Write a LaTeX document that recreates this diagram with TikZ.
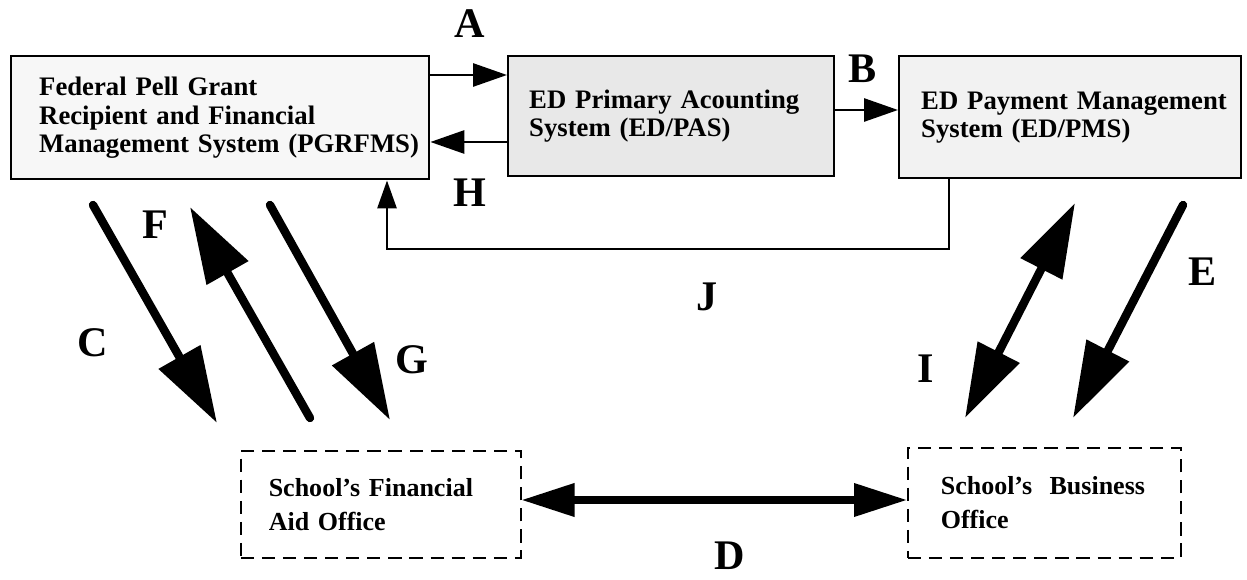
\documentclass[tikz,border=0pt]{standalone}
\usepackage{fontspec}
\setmainfont{Liberation Serif}
\usetikzlibrary{arrows.meta}
\begin{document}
\begin{tikzpicture}[x=0.02cm,y=-0.02cm,
  sysbox/.style={draw, line width=1.4pt, anchor=north west, align=left,
    font=\fontsize{15.2}{16}\selectfont\bfseries, inner ysep=0pt},
  schoolbox/.style={draw, line width=0.9pt, dash pattern=on 7.5pt off 4.5pt,
    anchor=north west, align=left, font=\fontsize{14.8}{19.3}\selectfont\bfseries,
    inner ysep=0pt},
  lbl/.style={font=\fontsize{24}{24}\selectfont\bfseries, inner sep=0pt},
  thinarr/.style={line width=1.6pt, -{Triangle[length=0.68cm,width=0.46cm]}},
  jarr/.style={line width=1.6pt, -{Triangle[length=0.56cm,width=0.38cm]}},
  bigarr/.style={line width=4.8pt, line cap=round, -{Triangle[length=1.52cm,width=0.92cm]}},
  bigdbl/.style={line width=4.8pt, {Triangle[length=1.48cm,width=0.9cm]}-{Triangle[length=1.48cm,width=0.9cm]}},
  darr/.style={line width=4pt, {Triangle[length=1.06cm,width=0.64cm]}-{Triangle[length=1.06cm,width=0.64cm]}}
]
\useasboundingbox (0,0) rectangle (1247,580);

% system boxes
\node[sysbox, fill=gray!6, inner xsep=0.56cm, text width=7.24cm, minimum height=2.46cm]
  (pgr) at (10,55) {Federal Pell Grant\\Recipient and Financial\\\mbox{Management System (PGRFMS)}};
\node[sysbox, fill=gray!18, inner xsep=0.42cm, text width=5.68cm, minimum height=2.4cm]
  (pas) at (507,55) {ED Primary Acounting\\System (ED/PAS)};
\node[sysbox, fill=gray!10, inner xsep=0.44cm, text width=5.96cm, minimum height=2.44cm]
  (pms) at (898,55) {\mbox{ED Payment Management}\\System (ED/PMS)};

% school boxes
\node[schoolbox, inner xsep=0.56cm, text width=4.48cm, minimum height=2.14cm]
  (fao) at (240,450) {School’s Financial\\Aid Office};
\node[schoolbox, inner xsep=0.66cm, text width=4.14cm, minimum height=2.2cm]
  (bo) at (907,447) {\mbox{School’s\ \ Business}\\Office};

% helper coordinates
\coordinate (ya) at (0,75);
\coordinate (yh) at (0,142);
\coordinate (yb) at (0,110);
\coordinate (yd) at (0,500);
\coordinate (jr) at (949,249);
\coordinate (jl) at (387,249);

% thin arrows
\draw[thinarr] (pgr.east |- ya) -- (pas.west |- ya);
\draw[thinarr] (pas.west |- yh) -- (pgr.east |- yh);
\draw[thinarr] (pas.east |- yb) -- (pms.west |- yb);
\draw[jarr] (pms.south -| jr) -- (jr) -- (jl) -- (pgr.south -| jl);

% thick arrows
\coordinate (c1) at (93,205);  \coordinate (c2) at (217,423);
\coordinate (f1) at (310,418); \coordinate (f2) at (190,207);
\coordinate (g1) at (270,205); \coordinate (g2) at (390,420);
\coordinate (i1) at (965,418); \coordinate (i2) at (1075,203);
\coordinate (e1) at (1183,205); \coordinate (e2) at (1073,418);
\draw[bigarr] (c1) -- (c2);
\draw[bigarr] (f1) -- (f2);
\draw[bigarr] (g1) -- (g2);
\draw[bigdbl] (i1) -- (i2);
\draw[bigarr] (e1) -- (e2);
\draw[darr] (fao.east |- yd) -- (bo.west |- yd);

% labels
\node[lbl] (la) at (470,24) {A};
\node[lbl] (lb) at (863,69) {B};
\node[lbl] (lh) at (470,193) {H};
\node[lbl] (lj) at (707,297) {J};
\node[lbl] (lc) at (93,343) {C};
\node[lbl] (lf) at (155,225) {F};
\node[lbl] (lg) at (412,360) {G};
\node[lbl] (li) at (926,369) {I};
\node[lbl] (le) at (1203,272) {E};
\node[lbl] (ld) at (730,556) {D};
\end{tikzpicture}
\end{document}
